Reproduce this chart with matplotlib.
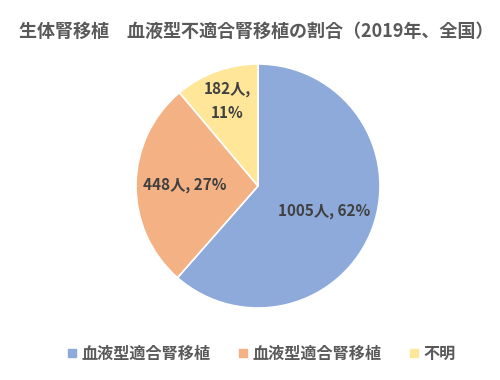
import matplotlib
matplotlib.use("Agg")
import matplotlib.pyplot as plt
import numpy as np
from matplotlib.lines import Line2D

plt.rcParams['font.family'] = ['Noto Sans CJK JP', 'DejaVu Sans']

TITLE = "生体腎移植　血液型不適合腎移植の割合（2019年、全国）"
CATEGORIES = ["血液型適合腎移植", "血液型適合腎移植", "不明"]
COUNTS = [1005, 448, 182]
PERCENTS = [62, 27, 11]
COLORS = ["#8eaadb", "#f4b183", "#ffe699"]
LABEL_DIST = [0.58, 0.6, 0.74]

fig = plt.figure(figsize=(5, 3.8), dpi=100)
R = 122
ax = fig.add_axes([(258 - R) / 500, (194 - R) / 380, 2 * R / 500, 2 * R / 380])

wedges, _ = ax.pie(COUNTS, colors=COLORS, startangle=90, counterclock=False,
                   wedgeprops=dict(edgecolor="white", linewidth=1.2))
ax.set_xlim(-1, 1)
ax.set_ylim(-1, 1)
ax.set_aspect("equal")

# data labels inside each wedge
for w, n, p, d in zip(wedges, COUNTS, PERCENTS, LABEL_DIST):
    ang = np.deg2rad((w.theta1 + w.theta2) / 2)
    txt = f"{n}人, {p}%"
    if p < 15:
        txt = f"{n}人,\n{p}%"
    ax.text(d * np.cos(ang), d * np.sin(ang), txt, ha="center", va="center",
            fontsize=11, fontweight="bold", color="#404040", linespacing=1.6)

fig.text(0.038, 0.917, TITLE, ha="left", va="center", fontsize=13,
         fontweight="bold", color="#595959")

handles = [Line2D([], [], marker="s", linestyle="none", markersize=6,
                  markerfacecolor=c, markeredgecolor=c) for c in COLORS]
fig.legend(handles, CATEGORIES, loc="center", bbox_to_anchor=(0.52, 0.07),
           ncol=3, frameon=False, handletextpad=0.1, handlelength=1.0,
           columnspacing=1.5, prop=dict(size=11.6, weight="bold"),
           labelcolor="#595959")

fig.savefig("out.png", dpi=100)
